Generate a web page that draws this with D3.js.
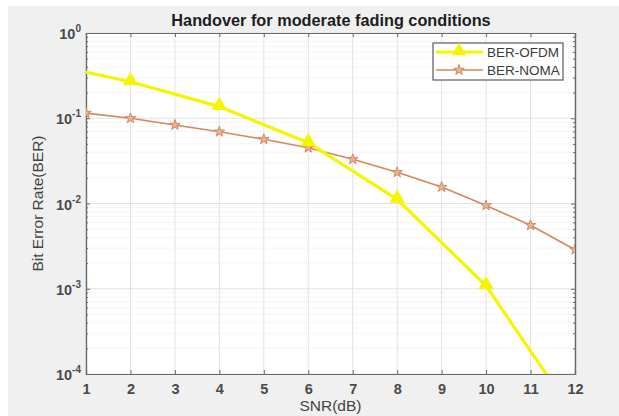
<!DOCTYPE html>
<html><head><meta charset="utf-8">
<script src="https://cdn.jsdelivr.net/npm/d3@7"></script>
<style>html,body{margin:0;padding:0;background:#fff;}svg{display:block;}</style>
</head><body>
<script>
const snrOFDM = [0, 2, 4, 6, 8, 10, 12];
const berOFDM = [0.45, 0.268, 0.137, 0.0516, 0.0112, 0.00108, 0.000032];
const snrNOMA = [1, 2, 3, 4, 5, 6, 7, 8, 9, 10, 11, 12];
const berNOMA = [0.115, 0.0998, 0.0833, 0.0695, 0.0566, 0.0451, 0.033, 0.0232, 0.0156, 0.0095, 0.00555, 0.00287];
const xTicks = [1, 2, 3, 4, 5, 6, 7, 8, 9, 10, 11, 12];
const yExps = [0, -1, -2, -3, -4];
const seriesNames = ["BER-OFDM", "BER-NOMA"];
const titleText = "Handover for moderate fading conditions";
const xLabel = "SNR(dB)";
const yLabel = "Bit Error Rate(BER)";

const W = 619, H = 416;
const m = {l: 86, r: 575, t: 33, b: 374};
const FONT = "'Liberation Sans', Arial, sans-serif";
const svg = d3.select("body").append("svg").attr("width", W).attr("height", H)
  .style("font-family", FONT);
svg.append("rect").attr("width", W).attr("height", H).attr("fill", "#fff");
svg.append("rect").attr("x", 8).attr("y", 6).attr("width", W - 8).attr("height", H - 6).attr("fill", "#f0f0f0");

const x = d3.scaleLinear().domain([1, 12]).range([m.l, m.r]);
const y = d3.scaleLog().domain([1e-4, 1]).range([m.b, m.t]);

svg.append("rect").attr("x", m.l).attr("y", m.t).attr("width", m.r - m.l).attr("height", m.b - m.t).attr("fill", "#fff");

// grid
const grid = svg.append("g");
const minorVals = [];
for (let e = -4; e < 0; e++) for (let k = 2; k <= 9; k++) minorVals.push(k * Math.pow(10, e));
grid.selectAll("line.mi").data(minorVals).join("line")
  .attr("x1", m.l).attr("x2", m.r).attr("y1", d => y(d)).attr("y2", d => y(d))
  .attr("stroke", "#ececec").attr("stroke-width", 1).attr("stroke-dasharray", "1,1");
grid.selectAll("line.gx").data(xTicks).join("line")
  .attr("x1", d => x(d)).attr("x2", d => x(d)).attr("y1", m.t).attr("y2", m.b)
  .attr("stroke", "#e2e2e2").attr("stroke-width", 1);
grid.selectAll("line.gy").data(yExps).join("line")
  .attr("x1", m.l).attr("x2", m.r).attr("y1", d => y(Math.pow(10, d))).attr("y2", d => y(Math.pow(10, d)))
  .attr("stroke", "#e2e2e2").attr("stroke-width", 1);

// axes
const axColor = "#6a6a6a";
const xAxis = svg.append("g").attr("transform", `translate(0,${m.b})`)
  .call(d3.axisBottom(x).tickValues(xTicks).tickSize(-4).tickPadding(10).tickFormat(d3.format("d")));
const xTop = svg.append("g").attr("transform", `translate(0,${m.t})`)
  .call(d3.axisTop(x).tickValues(xTicks).tickSize(-4).tickFormat(""));
const yAxis = svg.append("g").attr("transform", `translate(${m.l},0)`)
  .call(d3.axisLeft(y).tickValues(yExps.map(e => Math.pow(10, e))).tickSize(-4).tickFormat(""));
const yRight = svg.append("g").attr("transform", `translate(${m.r},0)`)
  .call(d3.axisRight(y).tickValues(yExps.map(e => Math.pow(10, e))).tickSize(-4).tickFormat(""));
const yMinL = svg.append("g").attr("transform", `translate(${m.l},0)`)
  .call(d3.axisLeft(y).tickValues(minorVals).tickSize(-2).tickFormat(""));
const yMinR = svg.append("g").attr("transform", `translate(${m.r},0)`)
  .call(d3.axisRight(y).tickValues(minorVals).tickSize(-2).tickFormat(""));
[xAxis, xTop, yAxis, yRight, yMinL, yMinR].forEach(g => {
  g.select(".domain").attr("stroke", axColor).attr("stroke-width", 1.2);
  g.selectAll(".tick line").attr("stroke", axColor);
});
xAxis.selectAll(".tick text").attr("fill", "#4a4a4a").attr("font-size", 14.5).attr("font-weight", "bold")
  .style("font-family", FONT);

// y tick labels with superscripts
const yl = svg.append("g");
yExps.forEach(e => {
  const t = yl.append("text").attr("x", m.l - 5).attr("y", y(Math.pow(10, e)) + 6)
    .attr("text-anchor", "end").attr("fill", "#4a4a4a").attr("font-size", 14.5).attr("font-weight", "bold");
  t.append("tspan").text("10");
  t.append("tspan").attr("dy", -7).attr("font-size", 10).text(String(e));
});

// title and labels
svg.append("text").attr("x", 331).attr("y", 26).attr("text-anchor", "middle")
  .attr("font-size", 16.3).attr("font-weight", "bold").attr("fill", "#1e1e1e").text(titleText);
svg.append("text").attr("x", x(6.5)).attr("y", 411).attr("text-anchor", "middle")
  .attr("font-size", 15.5).attr("fill", "#444").text(xLabel);
svg.append("text").attr("transform", `translate(43,${(m.t + m.b) / 2}) rotate(-90)`).attr("text-anchor", "middle")
  .attr("font-size", 15.5).attr("fill", "#444").text(yLabel);

// clip
svg.append("defs").append("clipPath").attr("id", "clip")
  .append("rect").attr("x", m.l).attr("y", m.t).attr("width", m.r - m.l).attr("height", m.b - m.t);

const plot = svg.append("g").attr("clip-path", "url(#clip)");
const yellow = "#f5f500", noma = "#d4875c";
const lineGen = d3.line().x(d => x(d[0])).y(d => y(d[1]));

const dOFDM = snrOFDM.map((s, i) => [s, berOFDM[i]]);
const dNOMA = snrNOMA.map((s, i) => [s, berNOMA[i]]);

plot.append("path").datum(dNOMA).attr("d", lineGen).attr("fill", "none").attr("stroke", noma).attr("stroke-width", 1.6);
plot.append("path").datum(dOFDM).attr("d", lineGen).attr("fill", "none").attr("stroke", yellow).attr("stroke-width", 3.2);

const star = d3.symbol().type(d3.symbolStar).size(34);
const tri = d3.symbol().type(d3.symbolTriangle).size(72);
plot.selectAll("path.st").data(dNOMA).join("path").attr("class", "st")
  .attr("transform", d => `translate(${x(d[0])},${y(d[1])})`).attr("d", star)
  .attr("fill", "#e8b497").attr("stroke", noma).attr("stroke-width", 1);
plot.selectAll("path.tr").data(dOFDM).join("path").attr("class", "tr")
  .attr("transform", d => `translate(${x(d[0])},${y(d[1]) - 1})`).attr("d", tri)
  .attr("fill", yellow).attr("stroke", yellow).attr("stroke-width", 1.5);

// legend
const lg = svg.append("g");
lg.append("rect").attr("x", 433).attr("y", 43).attr("width", 130).attr("height", 37)
  .attr("fill", "#fff").attr("stroke", "#5a5a5a").attr("stroke-width", 1.2);
const legRows = [
  {name: seriesNames[0], color: yellow, w: 3.2, sym: tri, fill: yellow, yy: 52},
  {name: seriesNames[1], color: noma, w: 1.6, sym: star, fill: "#e8b497", yy: 70}
];
legRows.forEach(r => {
  lg.append("line").attr("x1", 436).attr("x2", 483).attr("y1", r.yy).attr("y2", r.yy)
    .attr("stroke", r.color).attr("stroke-width", r.w);
  lg.append("path").attr("transform", `translate(459,${r.yy - (r.sym === tri ? 1 : 0)})`).attr("d", r.sym)
    .attr("fill", r.fill).attr("stroke", r.color);
  lg.append("text").attr("x", 487).attr("y", r.yy + 5).attr("font-size", 13.5).attr("fill", "#3a3a3a").text(r.name);
});
</script>
</body></html>
